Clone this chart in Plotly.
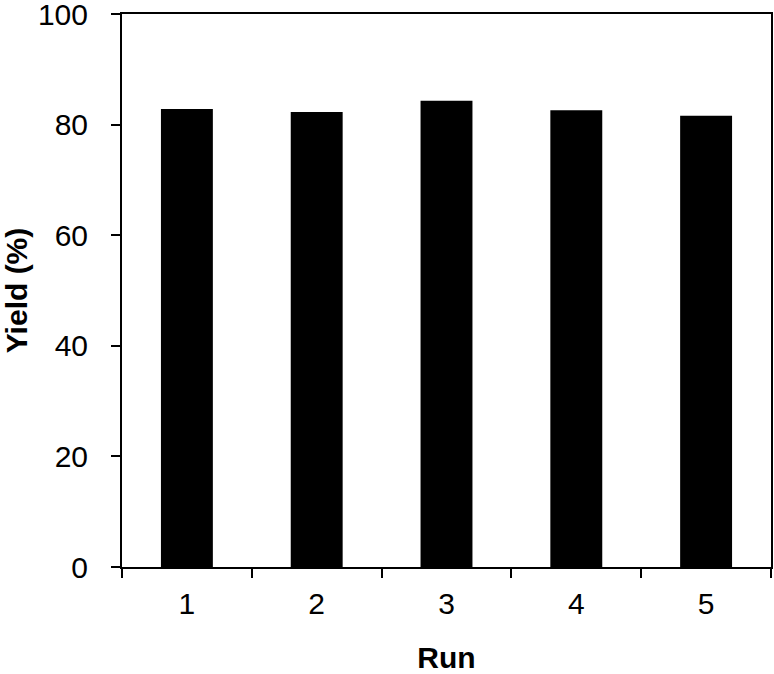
import plotly.graph_objects as go

runs = ["1", "2", "3", "4", "5"]
yield_pct = [82.8, 82.3, 84.3, 82.6, 81.6]
y_ticks = [0, 20, 40, 60, 80, 100]

fig = go.Figure()
fig.add_trace(go.Bar(x=runs, y=yield_pct, marker=dict(color="black", line=dict(width=0))))

axis_font = dict(family="Liberation Sans, Arial, sans-serif", size=30, color="black")
title_font = dict(family="Liberation Sans, Arial, sans-serif", size=30, color="black")

fig.update_layout(
    width=774, height=674,
    margin=dict(l=122, r=3, t=14, b=107),
    plot_bgcolor="white", paper_bgcolor="white",
    bargap=0.6,
    showlegend=False,
)
fig.update_xaxes(
    type="category",
    tickson="boundaries",
    ticks="outside", ticklen=9, tickwidth=2, tickcolor="black",
    showline=True, linecolor="black", linewidth=2, mirror=True,
    showgrid=False, automargin=False,
    tickfont=axis_font,
    ticklabelstandoff=9,
    title=dict(text="<b>Run</b>", font=title_font, standoff=35),
)
fig.update_yaxes(
    range=[0, 100],
    tickvals=y_ticks,
    ticks="outside", ticklen=9, tickwidth=2, tickcolor="black",
    showline=True, linecolor="black", linewidth=2, mirror=True,
    showgrid=False, zeroline=False, automargin=False,
    tickfont=axis_font, ticklabeloverflow="allow",
    ticklabelstandoff=17,
    title=dict(text="<b>Yield (%)</b>", font=title_font, standoff=20),
)

# page body has a default 8px margin; drop it so the figure sits at the corner
fig.write_html("out.html", config={"displayModeBar": False},
               post_script="document.body.style.margin='0';")
